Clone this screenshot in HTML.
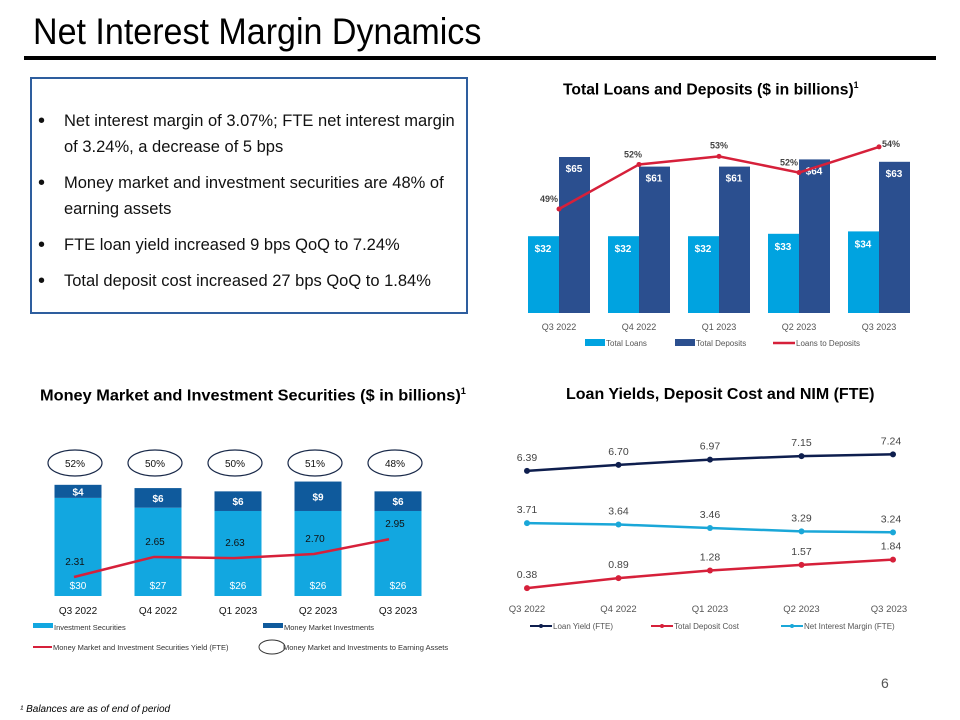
<!DOCTYPE html>
<html><head><meta charset="utf-8"><style>
body{margin:0;width:960px;height:720px;background:#fff;font-family:"Liberation Sans",sans-serif;overflow:hidden;position:relative}
.t{position:absolute}
</style></head><body>
<div class="t" style="left:33px;top:11px;font-size:37px;color:#000;transform:scaleX(0.92);transform-origin:left top">Net Interest Margin Dynamics</div>
<div class="t" style="left:24px;top:56px;width:912px;height:4px;background:#000"></div>
<div class="t" style="left:30px;top:77px;width:438px;height:237px;border:2px solid #2e5e9e;box-sizing:border-box"></div>
<div class="t" style="left:38px;top:108px;width:430px;font-size:16.5px;color:#111;line-height:26px">
<div style="position:relative;padding-left:26px;margin-bottom:10px"><span style="position:absolute;left:0;font-size:20px">•</span>Net interest margin of 3.07%; FTE net interest margin of 3.24%, a decrease of 5 bps</div>
<div style="position:relative;padding-left:26px;margin-bottom:10px"><span style="position:absolute;left:0;font-size:20px">•</span>Money market and investment securities are 48% of earning assets</div>
<div style="position:relative;padding-left:26px;margin-bottom:10px"><span style="position:absolute;left:0;font-size:20px">•</span>FTE loan yield increased 9 bps QoQ to 7.24%</div>
<div style="position:relative;padding-left:26px"><span style="position:absolute;left:0;font-size:20px">•</span>Total deposit cost increased 27 bps QoQ to 1.84%</div>
</div>
<div class="t" style="left:563px;top:80px;font-size:16px;font-weight:bold;transform:scaleX(0.98);transform-origin:left top">Total Loans and Deposits ($ in billions)<sup style="font-size:9px">1</sup></div>
<div class="t" style="left:40px;top:386px;font-size:16px;font-weight:bold;transform:scaleX(1.02);transform-origin:left top">Money Market and Investment Securities ($ in billions)<sup style="font-size:9px">1</sup></div>
<div class="t" style="left:566px;top:386px;font-size:16px;font-weight:bold">Loan Yields, Deposit Cost and NIM (FTE)</div>
<div class="t" style="left:881px;top:675px;font-size:14px;color:#555">6</div>
<div class="t" style="left:20px;top:704px;font-size:10px;font-style:italic">¹ Balances are as of end of period</div>
<svg id="svg" width="960" height="720" style="position:absolute;left:0;top:0"></svg>
<script>
const quarters=["Q3 2022","Q4 2022","Q1 2023","Q2 2023","Q3 2023"];
const loans=[32,32,32,33,34];
const deposits=[65,61,61,64,63];
const ratio=[49,52,53,52,54];
const ratioPos=[49,52.3,52.9,51.7,53.6];
const invSec=[30,27,26,26,26];
const mmInv=[4,6,6,9,6];
const mmYield=[2.31,2.65,2.63,2.70,2.95];
const mmShare=[52,50,50,51,48];
const loanYield=[6.39,6.70,6.97,7.15,7.24];
const depCost=[0.38,0.89,1.28,1.57,1.84];
const nim=[3.71,3.64,3.46,3.29,3.24];
const svg=document.getElementById('svg');
const NS="http://www.w3.org/2000/svg";
function mk(tag,at,txt){const e=document.createElementNS(NS,tag);for(const k in at)e.setAttribute(k,at[k]);if(txt!==undefined)e.textContent=txt;svg.appendChild(e);return e;}
const F='"Liberation Sans",sans-serif';
// chart 1
const x1=i=>559+i*80, y1=v=>313-v*2.4, yr=v=>209-(v-49)*13.5;
quarters.forEach((q,i)=>{
 let e=mk('rect',{x:x1(i)-31,y:y1(loans[i]),width:31,height:313-y1(loans[i]),fill:'#00a3e0'});
 
 e=mk('rect',{x:x1(i),y:y1(deposits[i]),width:31,height:313-y1(deposits[i]),fill:'#2b4f8f'});
 
 e=mk('text',{x:x1(i)-16,y:y1(loans[i])+16,'text-anchor':'middle','font-size':10,'font-weight':'bold',fill:'#fff','font-family':F},'$'+loans[i]);
 
 e=mk('text',{x:x1(i)+15,y:y1(deposits[i])+15,'text-anchor':'middle','font-size':10,'font-weight':'bold',fill:'#fff','font-family':F},'$'+deposits[i]);
 
 e=mk('text',{x:x1(i),y:330,'text-anchor':'middle','font-size':9,fill:'#555','font-family':F},q);
 
});
let e=mk('polyline',{points:ratioPos.map((v,i)=>x1(i)+','+yr(v)).join(' '),fill:'none',stroke:'#d6203a','stroke-width':2.5});

const rdx=[-10,-6,0,-10,12], rdy=[-7,-7,-8,-7,0];
ratioPos.forEach((v,i)=>{
 let c=mk('circle',{cx:x1(i),cy:yr(v),r:2.5,fill:'#d6203a'});
 
 c=mk('text',{x:x1(i)+rdx[i],y:yr(v)+rdy[i],'text-anchor':'middle','font-size':9,'font-weight':'bold',fill:'#444','font-family':F},ratio[i]+'%');
 
});
// legend 1
[['#00a3e0','Total Loans',585],['#2b4f8f','Total Deposits',675]].forEach((l,i)=>{
 let r=mk('rect',{x:l[2],y:339,width:20,height:7,fill:l[0]});
 r=mk('text',{x:l[2]+21,y:346,'font-size':8,fill:'#555','font-family':F},l[1]);
});
e=mk('line',{x1:773,y1:343,x2:795,y2:343,stroke:'#d6203a','stroke-width':2.5});
e=mk('text',{x:796,y:346,'font-size':8,fill:'#555','font-family':F},'Loans to Deposits');
// chart 2
const x2=i=>78+i*80, y2=v=>596-v*3.27, yy=v=>577-(v-2.31)*59;
quarters.forEach((q,i)=>{
 let r=mk('rect',{x:x2(i)-23.5,y:y2(invSec[i]),width:47,height:596-y2(invSec[i]),fill:'#12a7e0'});
 
 r=mk('rect',{x:x2(i)-23.5,y:y2(invSec[i]+mmInv[i]),width:47,height:mmInv[i]*3.27,fill:'#0f5a9c'});
 
 r=mk('text',{x:x2(i),y:589,'text-anchor':'middle','font-size':10,fill:'#fff','font-family':F},'$'+invSec[i]);
 
 r=mk('text',{x:x2(i),y:y2(invSec[i]+mmInv[i]/2)+4,'text-anchor':'middle','font-size':10,'font-weight':'bold',fill:'#fff','font-family':F},'$'+mmInv[i]);
 
 r=mk('text',{x:x2(i)-3,y:yy(mmYield[i])-12,'text-anchor':'middle','font-size':10,fill:'#111','font-family':F},mmYield[i].toFixed(2));
 
 r=mk('text',{x:x2(i),y:614,'text-anchor':'middle','font-size':10,fill:'#111','font-family':F},q);
 
 r=mk('ellipse',{cx:x2(i)-3,cy:463,rx:27,ry:13,fill:'none',stroke:'#1a2a4a','stroke-width':1.2});
 
 r=mk('text',{x:x2(i)-3,y:467,'text-anchor':'middle','font-size':10,fill:'#111','font-family':F},mmShare[i]+'%');
 
});
e=mk('polyline',{points:mmYield.map((v,i)=>(x2(i)-4-(i==4?5:0))+','+yy(v)).join(' '),fill:'none',stroke:'#d6203a','stroke-width':2.5});

[['#12a7e0','Investment Securities',33,627],['#0f5a9c','Money Market Investments',263,627]].forEach((l,i)=>{
 let r=mk('rect',{x:l[2],y:l[3]-4,width:20,height:5,fill:l[0]});
 r=mk('text',{x:l[2]+21,y:l[3]+3,'font-size':7.5,fill:'#333','font-family':F},l[1]);
});
e=mk('line',{x1:33,y1:647,x2:52,y2:647,stroke:'#d6203a','stroke-width':2});
e=mk('text',{x:53,y:650,'font-size':7.5,fill:'#333','font-family':F},'Money Market and Investment Securities Yield (FTE)');
e=mk('ellipse',{cx:272,cy:647,rx:13,ry:7,fill:'none',stroke:'#333','stroke-width':1});
e=mk('text',{x:283,y:650,'font-size':7.5,fill:'#333','font-family':F},'Money Market and Investments to Earning Assets');
// chart 3
const x3=i=>527+i*91.5, y3=v=>595.5-v*19.5;
const series=[['loan-yield',loanYield,'#0e1e4e'],['nim',nim,'#1aa7d8'],['deposit-cost',depCost,'#d6203a']];
series.forEach(s=>{
 let l=mk('polyline',{points:s[1].map((v,i)=>x3(i)+','+y3(v)).join(' '),fill:'none',stroke:s[2],'stroke-width':2.5});
 
 s[1].forEach((v,i)=>{
  let c=mk('circle',{cx:x3(i),cy:y3(v),r:3,fill:s[2]});
  
  c=mk('text',{x:x3(i)+(i==4?-2:0),y:y3(v)-10,'text-anchor':'middle','font-size':10.5,fill:'#444','font-family':F},v.toFixed(2));
  
 });
});
quarters.forEach((q,i)=>{
 let t=mk('text',{x:x3(i)+(i==4?-4:0),y:612,'text-anchor':'middle','font-size':9.5,fill:'#555','font-family':F},q);
 
});
[['#0e1e4e','Loan Yield (FTE)',530],['#d6203a','Total Deposit Cost',651],['#1aa7d8','Net Interest Margin (FTE)',781]].forEach((l,i)=>{
 let r=mk('line',{x1:l[2],y1:626,x2:l[2]+22,y2:626,stroke:l[0],'stroke-width':2});
 r=mk('circle',{cx:l[2]+11,cy:626,r:2,fill:l[0]});
 r=mk('text',{x:l[2]+23,y:629,'font-size':8,fill:'#555','font-family':F},l[1]);
});
</script>
</body></html>
